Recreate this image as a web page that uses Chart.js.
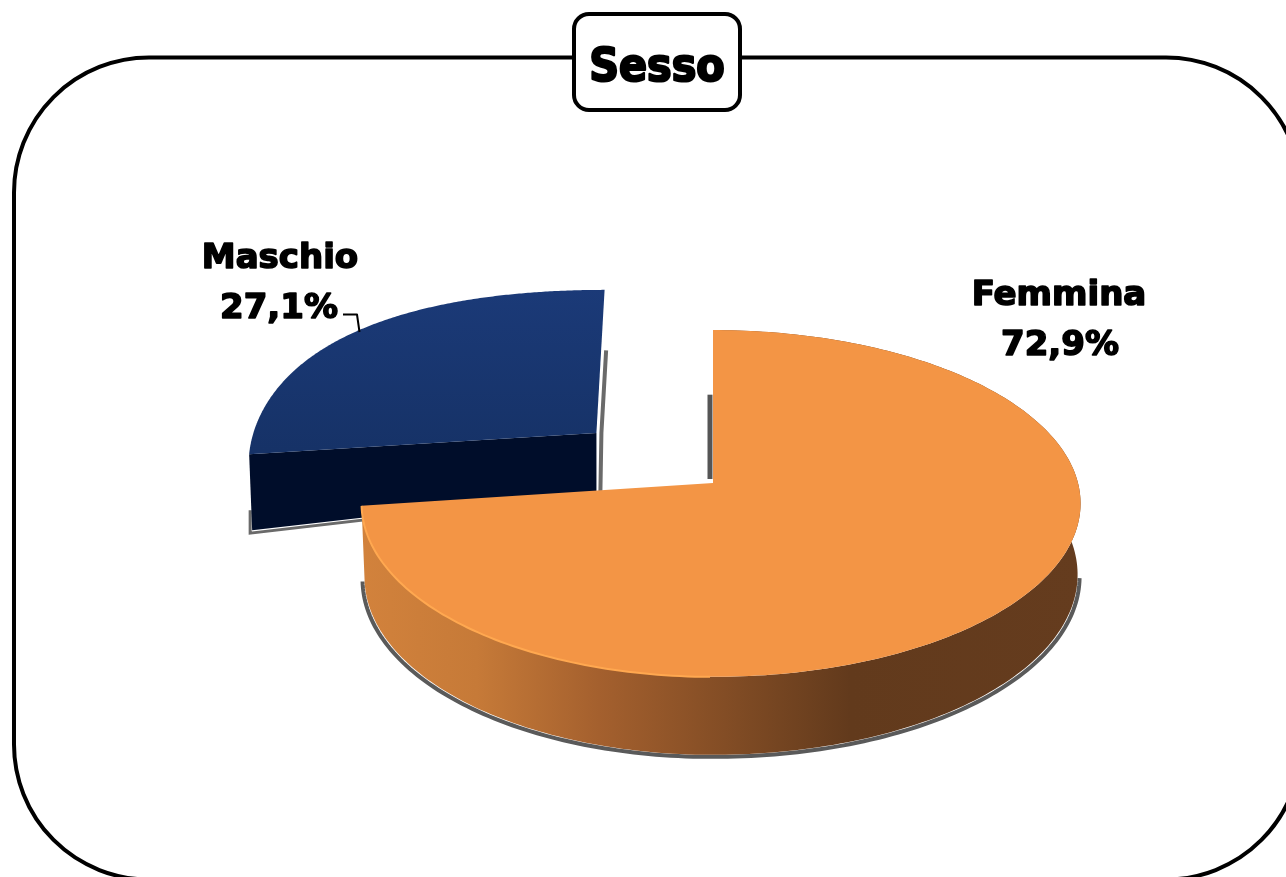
<!DOCTYPE html>
<html><head><meta charset="utf-8">
<style>html,body{margin:0;padding:0;background:#fff;overflow:hidden}canvas{display:block}</style>
<script src="https://cdn.jsdelivr.net/npm/chart.js@4"></script>
</head><body><canvas id="c" width="1286" height="877"></canvas>
<script>
const chartTitle = "Sesso";
const categories = ["Femmina", "Maschio"];
const values = [72.9, 27.1];
const fmt = v => v.toFixed(1).replace(".", ",") + "%";

// view of the tilted pie: unit disc -> screen
const P = {cx:713, cy:483, aL:349, aR:365, d:114, p:-0.118};
function project(u, v){
  const w = 1 + P.p*v;
  return [P.cx + (u<0?P.aL:P.aR)*u/w, (P.d*v + P.cy)/w];
}
function wedge(arc, bulge){
  const R = arc.outerRadius, mid = (arc.startAngle+arc.endAngle)/2, o = arc.options.offset/R;
  const ou = Math.cos(mid)*o, ov = Math.sin(mid)*o;
  const pts = [];
  for(let i=0;i<=240;i++){
    const t = arc.startAngle + (arc.endAngle-arc.startAngle)*i/240;
    const r = 1 + bulge*Math.pow(Math.sin(2*t),2);
    pts.push([ou+r*Math.cos(t), ov+r*Math.sin(t)]);
  }
  return {apex:[ou,ov], pts};
}
function poly(ctx, list){ ctx.beginPath(); list.forEach((q,i)=> i?ctx.lineTo(q[0],q[1]):ctx.moveTo(q[0],q[1])); }

const pie3d = {
  id:"pie3d",
  beforeDatasetDraw(chart){
    const ctx = chart.ctx, arcs = chart.getDatasetMeta(0).data;
    ctx.save();
    // ---- Maschio (behind)
    {
      const w = wedge(arcs[1], 0.035);
      const a0 = project(w.apex[0],w.apex[1]);
      const fit = p => [a0[0] + 1.018*(p[0]-a0[0]) - 4*(a0[1]-p[1])/145, p[1]];
      const depth = q => 58 + 18*Math.min(1,Math.max(0,(-q[0]+w.apex[0])/1));
      const top = w.pts.map(q=>fit(project(q[0],q[1])));
      const apex = fit(a0);
      const first = w.pts[0], fp = top[0];
      const dL = depth(first);
      // soft grey edge along the cut side and bottom
      ctx.strokeStyle="#6a6a6a"; ctx.lineWidth=4;
      const gap = fit(project(w.apex[0], w.apex[1]-0.55));
      poly(ctx,[[gap[0]+5,gap[1]],[apex[0]+5,apex[1]],[apex[0]+4,apex[1]+58]]); ctx.stroke();
      ctx.lineWidth=3;
      poly(ctx,[[fp[0]+1,fp[1]+dL-20],[fp[0]+1,fp[1]+dL+3],[apex[0],apex[1]+60]]); ctx.stroke();
      // cut wall
      ctx.fillStyle="#000d2a";
      poly(ctx,[fp,apex,[apex[0],apex[1]+58],[fp[0]+3,fp[1]+dL]]); ctx.closePath(); ctx.fill();
      // top face
      const g = ctx.createLinearGradient(0,287,0,450);
      g.addColorStop(0,"#1b3a78"); g.addColorStop(1,"#163267");
      ctx.fillStyle = g;
      poly(ctx,[apex,...top]); ctx.closePath(); ctx.fill();
    }
    // ---- Femmina (front)
    {
      const w = wedge(arcs[0], 0);
      const top = w.pts.map(q=>project(q[0],q[1]));
      const apex = project(w.apex[0],w.apex[1]);
      const bottom = w.pts.map((q,i)=>[top[i][0]+(q[0]<0?3*(-q[0]):-3*q[0]),top[i][1]+73+5*q[1]-(q[0]>0?3*(1-q[1]):0)]);
      // grey rim below the wall
      const vis = bottom.filter((b,i)=>w.pts[i][1]>0.12);
      ctx.strokeStyle="#5a5a5a"; ctx.lineWidth=4;
      poly(ctx,vis.map(b=>[b[0]+(b[0]<713?-2:2),b[1]+2])); ctx.stroke();
      // shadow of the cut side in the gap
      const s = project(w.apex[0], w.apex[1]-0.55);
      poly(ctx,[[s[0]-3,s[1]],[apex[0]-3,apex[1]-4]]); ctx.strokeStyle="#555"; ctx.lineWidth=5; ctx.stroke();
      // curved wall
      const g = ctx.createLinearGradient(362,0,1080,0);
      g.addColorStop(0,"#d2823c"); g.addColorStop(0.16,"#c67a38"); g.addColorStop(0.33,"#a4602e");
      g.addColorStop(0.68,"#623a1c"); g.addColorStop(1,"#653c1e");
      ctx.fillStyle=g;
      poly(ctx,[...top,...bottom.slice().reverse()]); ctx.closePath(); ctx.fill();
      // top face
      ctx.fillStyle="#f39545";
      poly(ctx,[apex,...top]); ctx.closePath(); ctx.fill();
      // light rim on the front-left edge
      const rim = top.filter((q,i)=>w.pts[i][0]<0 && w.pts[i][1]>0.1);
      ctx.strokeStyle="#ffa850"; ctx.lineWidth=2;
      poly(ctx,rim); ctx.stroke();
    }
    ctx.restore();
    return false;
  },
  afterDraw(chart){
    const ctx = chart.ctx;
    ctx.save();
    // outer frame
    ctx.strokeStyle="#000"; ctx.lineWidth=4;
    ctx.beginPath(); ctx.roundRect(14,57.5,1287,822,135); ctx.stroke();
    // title box
    ctx.lineWidth=4; ctx.fillStyle="#fff";
    ctx.beginPath(); ctx.roundRect(574,14,166,96,15); ctx.fill(); ctx.stroke();
    ctx.fillStyle="#000"; ctx.textAlign="center"; ctx.textBaseline="alphabetic";
    ctx.lineJoin="round";
    const label = (t,x,y,sw) => { ctx.lineWidth=sw; ctx.strokeText(t,x,y); ctx.fillText(t,x,y); };
    ctx.font='bold 46px "DejaVu Sans Condensed","DejaVu Sans"';
    label(chartTitle,657,81,2.2);
    // labels
    ctx.font='bold 34px "DejaVu Sans"';
    label(categories[1],280,268,1.6);
    label(fmt(values[1]),279,318,1.6);
    label(categories[0],1059,305,1.6);
    label(fmt(values[0]),1060,355,1.6);
    // leader
    ctx.lineWidth=2;
    ctx.beginPath(); ctx.moveTo(343,314.5); ctx.lineTo(357,314.5); ctx.lineTo(359.5,332); ctx.stroke();
    ctx.restore();
  }
};

new Chart(document.getElementById("c"),{
  type:"pie",
  data:{labels:categories,datasets:[{data:values,backgroundColor:["#f39545","#17346b"],borderWidth:0,offset:[0,164]}]},
  options:{responsive:false,animation:false,rotation:0,
    plugins:{legend:{display:false},title:{display:false},tooltip:{enabled:false}}},
  plugins:[pie3d]
});
</script></body></html>
